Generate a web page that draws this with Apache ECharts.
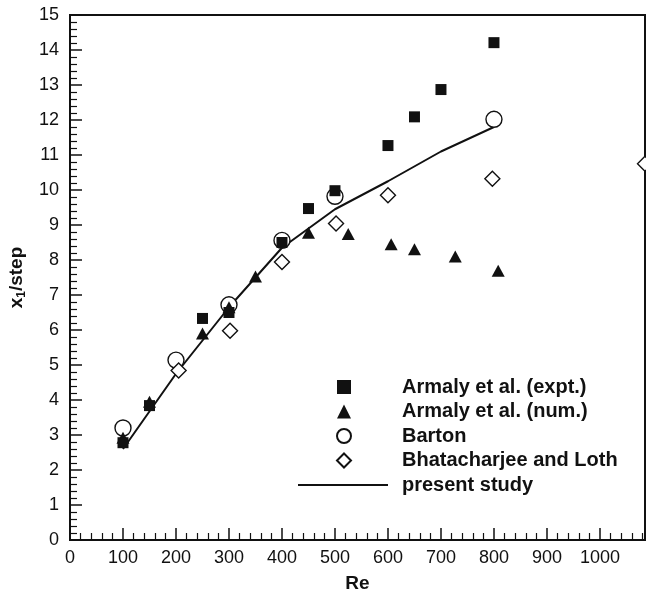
<!DOCTYPE html>
<html>
<head>
<meta charset="utf-8">
<script src="https://cdn.jsdelivr.net/npm/echarts@6/dist/echarts.min.js"></script>
<style>html,body{margin:0;padding:0;background:#fff}#c{width:646px;height:592px}</style>
</head>
<body>
<div id="c"></div>
<script>
// Armaly et al. (expt.)
const expRe = [100, 150, 250, 300, 400, 450, 500, 600, 650, 700, 800];
const expX = [2.78, 3.84, 6.33, 6.5, 8.5, 9.47, 9.98, 11.27, 12.09, 12.87, 14.21];
// Armaly et al. (num.)
const numRe = [100, 150, 250, 300, 350, 450, 525, 606, 650, 727, 808];
const numX = [2.92, 3.95, 5.9, 6.65, 7.53, 8.78, 8.74, 8.45, 8.31, 8.1, 7.69];
// Barton
const bartonRe = [100, 200, 300, 400, 500, 800];
const bartonX = [3.2, 5.14, 6.72, 8.56, 9.82, 12.02];
// Bhatacharjee and Loth
const bhRe = [205, 302, 400, 502, 600, 797, 1085];
const bhX = [4.84, 5.98, 7.94, 9.04, 9.85, 10.32, 10.75];
// present study
const psRe = [100, 200, 300, 400, 500, 600, 700, 800];
const psX = [2.6, 4.75, 6.65, 8.35, 9.45, 10.25, 11.1, 11.8];

const xTicks = [0, 100, 200, 300, 400, 500, 600, 700, 800, 900, 1000];
const yTicks = [0, 1, 2, 3, 4, 5, 6, 7, 8, 9, 10, 11, 12, 13, 14, 15];

const zip = (a, b) => a.map((v, i) => [v, b[i]]);
const FONT = '"Liberation Sans", Arial, Helvetica, sans-serif';
const INK = '#111';

const legendText = (pad) => ({fontFamily: FONT, fontSize: 20, fontWeight: 'bold', color: INK, padding: [0, 0, 0, pad], lineHeight: 20});

const chart = echarts.init(document.getElementById('c'), null, {renderer: 'canvas'});
chart.setOption({
  animation: false,
  backgroundColor: '#fff',
  textStyle: {fontFamily: FONT},
  grid: {left: 70, right: 1, top: 15, bottom: 52, containLabel: false, outerBoundsMode: 'none',
    show: true, borderColor: INK, borderWidth: 2, backgroundColor: 'transparent'},
  xAxis: {
    type: 'value', min: xTicks[0], max: 1085, interval: 100,
    name: 'Re', nameLocation: 'middle', nameGap: 34,
    nameTextStyle: {fontFamily: FONT, fontSize: 19, fontWeight: 'bold', color: INK},
    axisLine: {show: true, lineStyle: {color: INK, width: 2}},
    axisTick: {show: true, inside: true, length: 12, lineStyle: {color: INK, width: 1.5}},
    minorTick: {show: true, splitNumber: 5, length: 7, lineStyle: {color: INK, width: 1.2}},
    axisLabel: {fontFamily: FONT, fontSize: 18, color: INK, margin: 9, showMaxLabel: false,
      formatter: (v) => String(v)},
    splitLine: {show: false}
  },
  yAxis: {
    type: 'value', min: yTicks[0], max: yTicks[yTicks.length - 1], interval: 1,
    name: '{m|x}{sub|1}{m|/step}', nameLocation: 'middle', nameGap: 40,
    nameTextStyle: {
      fontFamily: FONT, fontSize: 19, fontWeight: 'bold', color: INK,
      rich: {
        m: {fontFamily: FONT, fontSize: 19, fontWeight: 'bold', color: INK},
        sub: {fontFamily: FONT, fontSize: 12, fontWeight: 'bold', color: INK, padding: [10, 0, 0, 0]}
      }
    },
    axisLine: {show: true, lineStyle: {color: INK, width: 2}},
    axisTick: {show: true, inside: true, length: 12, lineStyle: {color: INK, width: 1.5}},
    minorTick: {show: true, splitNumber: 5, length: 7, lineStyle: {color: INK, width: 1.2}},
    axisLabel: {fontFamily: FONT, fontSize: 18, color: INK, margin: 11},
    splitLine: {show: false}
  },
  legend: [
    {
      orient: 'vertical', left: 331, top: 372,
      itemWidth: 14, itemHeight: 14, itemGap: 4.5,
      textStyle: legendText(46),
      data: [
        {name: 'Armaly et al. (expt.)', icon: 'rect'},
        {name: 'Armaly et al. (num.)', icon: 'triangle'},
        {name: 'Barton', icon: 'circle'},
        {name: 'Bhatacharjee and Loth', icon: 'diamond'}
      ]
    },
    {
      orient: 'vertical', left: 293, top: 470,
      itemWidth: 90, itemHeight: 2,
      textStyle: legendText(9),
      data: [{name: 'present study', icon: 'rect'}]
    }
  ],
  series: [
    {
      name: 'present study', type: 'line', data: zip(psRe, psX),
      symbol: 'none', lineStyle: {color: INK, width: 2}, itemStyle: {color: INK}, z: 1
    },
    {
      name: 'Barton', type: 'scatter', data: zip(bartonRe, bartonX),
      symbol: 'circle', symbolSize: 16,
      itemStyle: {color: '#fff', borderColor: INK, borderWidth: 1.4, opacity: 1}, z: 2
    },
    {
      name: 'Bhatacharjee and Loth', type: 'scatter', data: zip(bhRe, bhX),
      symbol: 'diamond', symbolSize: 15,
      itemStyle: {color: '#fff', borderColor: INK, borderWidth: 1.4, opacity: 1}, z: 3
    },
    {
      name: 'Armaly et al. (num.)', type: 'scatter', data: zip(numRe, numX),
      symbol: 'triangle', symbolSize: [13, 12],
      itemStyle: {color: INK, opacity: 1}, z: 4
    },
    {
      name: 'Armaly et al. (expt.)', type: 'scatter', data: zip(expRe, expX),
      symbol: 'rect', symbolSize: 11,
      itemStyle: {color: INK, opacity: 1}, z: 5
    }
  ]
});
</script>
</body>
</html>
